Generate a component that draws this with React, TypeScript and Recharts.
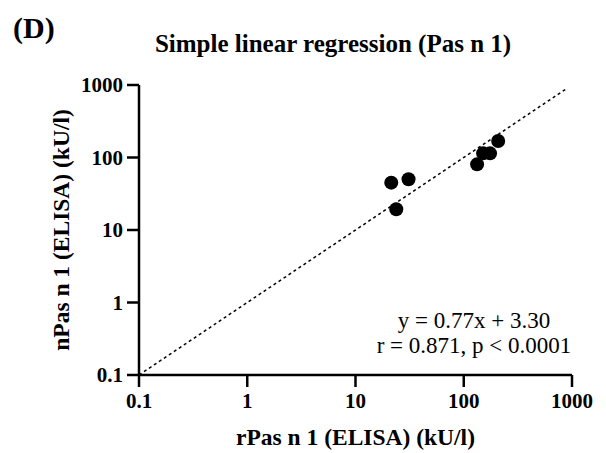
import React from "react";
import { ScatterChart, Scatter, XAxis, YAxis, ReferenceLine, Label } from "recharts";

const xValues = [21.4, 30.9, 23.8, 132.8, 151, 175, 208];
const yValues = [45, 50, 19.3, 80.5, 114, 114, 169];
const tickValues = [0.1, 1, 10, 100, 1000];
const identityLine = [0.1, 900];

const data = xValues.map((x, i) => ({ x, y: yValues[i] }));

const FONT = "'Liberation Serif', 'Times New Roman', serif";

const Dot = (props: any) => <circle cx={props.cx} cy={props.cy} r={7} fill="#000" />;

const YLabel = (props: any) => {
  const vb = props.viewBox;
  return (
    <text
      transform={`translate(61, ${vb.y + vb.height / 2}) rotate(-90)`}
      textAnchor="middle"
      fontFamily={FONT}
      fontWeight="bold"
      fontSize={23.5}
      fill="#000"
    >
      nPas n 1 (ELISA) (kU/l)
    </text>
  );
};

const XLabel = (props: any) => {
  const vb = props.viewBox;
  return (
    <text
      x={vb.x + vb.width / 2}
      y={437}
      textAnchor="middle"
      fontFamily={FONT}
      fontWeight="bold"
      fontSize={23.5}
      fill="#000"
    >
      rPas n 1 (ELISA) (kU/l)
    </text>
  );
};

const tickStyle = { fontFamily: FONT, fontWeight: "bold" as const, fontSize: 21, fill: "#000" };

export default function App() {
  return (
    <div style={{ position: "relative", width: 598, height: 445 }}>
      <ScatterChart width={598} height={445} margin={{ top: 77, right: 34, bottom: 0, left: 0 }}>
        <XAxis
          type="number"
          dataKey="x"
          scale="log"
          domain={[0.1, 1000]}
          ticks={tickValues}
          allowDataOverflow
          height={78}
          tickSize={12}
          tickMargin={6}
          stroke="#000"
          strokeWidth={2.5}
          tick={tickStyle}
          tickFormatter={(v: number) => String(v)}
        >
          <Label content={<XLabel />} />
        </XAxis>
        <YAxis
          type="number"
          dataKey="y"
          scale="log"
          domain={[0.1, 1000]}
          ticks={tickValues}
          allowDataOverflow
          width={131}
          tickSize={12}
          tickMargin={4}
          stroke="#000"
          strokeWidth={2.5}
          tick={tickStyle}
          tickFormatter={(v: number) => String(v)}
        >
          <Label content={<YLabel />} />
        </YAxis>
        <ReferenceLine
          segment={[
            { x: identityLine[0], y: identityLine[0] },
            { x: identityLine[1], y: identityLine[1] },
          ]}
          stroke="#000"
          strokeWidth={1.5}
          strokeDasharray="3 3"
        />
        <Scatter data={data} shape={<Dot />} isAnimationActive={false} />
      </ScatterChart>
      <svg
        width={598}
        height={445}
        style={{ position: "absolute", left: 0, top: 0, pointerEvents: "none" }}
      >
        <text x={5} y={30} fontFamily={FONT} fontWeight="bold" fontSize={30} fill="#000">
          (D)
        </text>
        <text x={325} y={44} textAnchor="middle" fontFamily={FONT} fontWeight="bold" fontSize={25} fill="#000">
          Simple linear regression (Pas n 1)
        </text>
        <text x={466} y={320} textAnchor="middle" fontFamily={FONT} fontSize={23} fill="#000">
          y = 0.77x + 3.30
        </text>
        <text x={466} y={345} textAnchor="middle" fontFamily={FONT} fontSize={23} fill="#000">
          r = 0.871, p &lt; 0.0001
        </text>
      </svg>
    </div>
  );
}
